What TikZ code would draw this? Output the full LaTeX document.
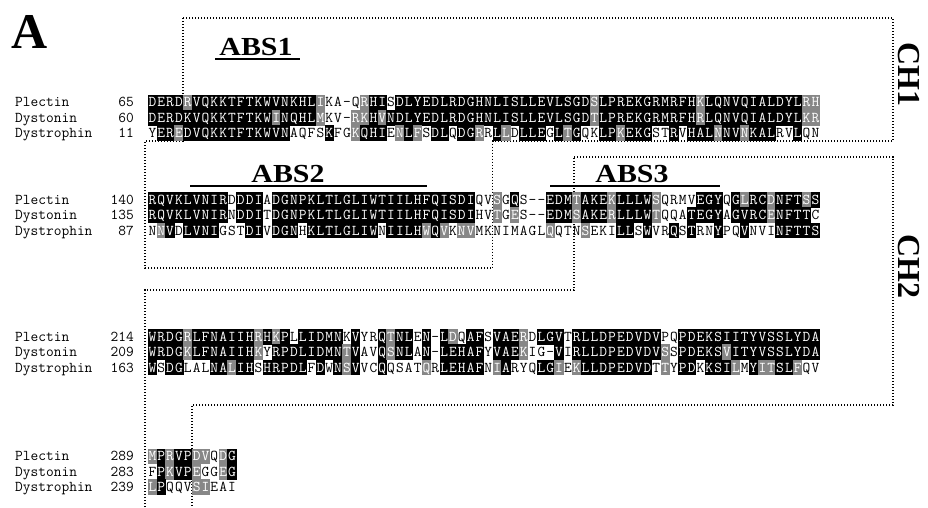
\documentclass[tikz,border=0pt]{standalone}
\usepackage{fontspec}
\setmainfont{Liberation Serif}
\definecolor{shadegray}{HTML}{878787}
\tikzset{
  seqtxt/.style={anchor=base, inner sep=0pt, font=\ttfamily\fontsize{15}{15}\selectfont},
  namelbl/.style={anchor=base west, inner sep=0pt, font=\ttfamily\fontsize{15}{15}\selectfont},
  numlbl/.style={anchor=base east, inner sep=0pt, font=\ttfamily\fontsize{15}{15}\selectfont},
  dotline/.style={line width=1.4pt, dash pattern=on 1.4pt off 1.6pt},
  abslbl/.style={anchor=base, inner sep=0pt, xscale=1.15, font=\bfseries\fontsize{26}{26}\selectfont},
  chlbl/.style={inner sep=0pt, rotate=-90, font=\bfseries\fontsize{32}{32}\selectfont},
  absrule/.style={line width=2pt},
}
\newcommand\cellbox[4]{%
  \fill[#4] ({138.96+#2*8.84},{#1-7.9}) rectangle ({148.2+#2*8.84},{#1+7.7});
  \node[seqtxt,text=white] at ({143.58+#2*8.84},{#1+4.4}) {#3};}
\newcommand\cellplain[3]{%
  \node[seqtxt] at ({143.58+#2*8.84},{#1+4.4}) {#3};}
\ExplSyntaxOn
\NewDocumentCommand \alncell { m m m m }
  {
    \str_case:nn {#4}
      {
        {k}{\cellbox{#1}{#2}{#3}{black}}
        {g}{\cellbox{#1}{#2}{#3}{shadegray}}
        {w}{\cellplain{#1}{#2}{#3}}
      }
  }
\NewDocumentCommand \alnrow { m m m }
  {
    \int_step_inline:nn { \tl_count:n {#2} }
      {
        \use:e
          {
            \exp_not:N \alncell {#1} {##1}
              { \tl_item:nn {#2} {##1} }
              { \tl_item:nn {#3} {##1} }
          }
      }
  }
\ExplSyntaxOff
\newcommand\seqrow[6]{%
  \node[namelbl] (nm#6) at (15,{#1+4.4}) {#2};
  \node[numlbl] (no#6) at (134,{#1+4.4}) {#3};
  \alnrow{#1}{#4}{#5}}
\begin{document}
\begin{tikzpicture}[x=1pt,y=-1pt]
\useasboundingbox (0,0) rectangle (928,507);
% panel letter
\node[anchor=base west, inner sep=0pt, font=\bfseries\fontsize{50}{50}\selectfont] (panelA) at (11,48) {A};
% domain outlines
\draw[dotline] (183,18) -- (893,18) -- (893,141) -- (492.5,141) -- (492.5,268) -- (145,268) -- (145,141) -- (183,141) -- cycle;
\draw[dotline] (574,157) -- (893,157) -- (893,405) -- (192,405) -- (192,507);
\draw[dotline] (145,507) -- (145,290) -- (574,290) -- (574,157);
% domain labels
\node[chlbl] (ch1) at (909,74) {CH1};
\node[chlbl] (ch2) at (909,266) {CH2};
% ABS labels
\node[abslbl] (abs1) at (256,55) {ABS1};
\draw[absrule] (215,59) -- (300,59);
\node[abslbl] (abs2) at (288,182) {ABS2};
\draw[absrule] (190,186) -- (427,186);
\node[abslbl] (abs3) at (632,182) {ABS3};
\draw[absrule] (550,186) -- (720,186);
% block 1
\seqrow{102.5}{Plectin}{65}{DERDRVQKKT FTKWVNKHLI KA-QRHISDL YEDLRDGHNL ISLLEVLSGD SLPREKGRMR FHKLQNVQIA LDYLRH}{kkkkgkkkkk kkkkkkkkkg wwwwgkkwkk kkkkkkkkkk kkkkkkkkkk gkkkkkkkkk kkgkkkkkkk kkkkgg}{p1}
\seqrow{117.8}{Dystonin}{60}{DERDKVQKKT FTKWINQHLM KV-RKHVNDL YEDLRDGHNL ISLLEVLSGD TLPREKGRMR FHRLQNVQIA LDYLKR}{kkkkkkkkkk kkkkgkkkkg wwwggkgkkk kkkkkkkkkk kkkkkkkkkk gkkkkkkkkk kkgkkkkkkk kkkkgg}{d1}
\seqrow{133.1}{Dystrophin}{11}{YEREDVQKKT FTKWVNAQFS KFGKQHIENL FSDLQDGRRL LDLLEGLTGQ KLPKEKGSTR VHALNNVNKA LRVLQN}{wkkgkkkkkk kkkkkkwwww kwwgkkkwgk gwkkwkkgwk gwkkkwkgkw wkkgkkkwwk wkkkgkkgkk kwwkww}{r1}
% block 2
\seqrow{200}{Plectin}{140}{RQVKLVNIRD DDIADGNPKL TLGLIWTIIL HFQISDIQVS GQS--EDMTA KEKLLLWSQR MVEGYQGLRC DNFTSS}{kkkkkkkkkw kkkwkkkkkk kkkkkkkkkk kkkkkkkwwg wkwwwkkkgk kkgkkkkgww wwkkkwkgkk gkkkgk}{p2}
\seqrow{215.3}{Dystonin}{135}{RQVKLVNIRN DDITDGNPKL TLGLIWTIIL HFQISDIHVT GES--EDMSA KERLLLWTQQ ATEGYAGVRC ENFTTC}{kkkkkkkkkw kkkwkkkkkk kkkkkkkkkk kkkkkkkwwg wgwwwkkkgk kkgkkkkgww wkkkkwkkkk gkkkkw}{d2}
\seqrow{230.6}{Dystrophin}{87}{NNVDLVNIGS TDIVDGNHKL TLGLIWNIIL HWQVKNVMKN IMAGLQQTNS EKILLSWVRQ STRNYPQVNV INFTTS}{wgkwkkkkww wkkwkkkwkk kkkkkkwkkk kgkgwggwww wwwwwgwwwg wwwkkwkwwk wkwwkwwkww wkkkkk}{r2}
% block 3
\seqrow{337}{Plectin}{214}{WRDGRLFNAI IHRHKPLLID MNKVYRQTNL EN-LDQAFSV AERDLGVTRL LDPEDVDVPQ PDEKSIITYV SSLYDA}{kkkkgkkkkk kkgkgkwkkk kkwkwwkgkk wkwkgwkkwk kkgwkkkwkk kkkkkkkkww kkkkkkkkkk kkkkkk}{p3}
\seqrow{352.3}{Dystonin}{209}{WRDGKLFNAI IHKYRPDLID MNTVAVQSNL AN-LEHAFYV AEKIG-VIRL LDPEDVDVSS PDEKSVITYV SSLYDA}{kkkkgkkkkk kkgwkkkkkk kkgkwwkgkk wkwkkkkkwk kkgwwwkwkk kkkkkkkkgw kkkkkgkkkk kkkkkk}{d3}
\seqrow{367.6}{Dystrophin}{163}{WSDGLALNAL IHSHRPDLFD WNSVVCQQSA TQRLEHAFNI ARYQLGIEKL LDPEDVDTTY PDKKSILMYI TSLFQV}{kwkkwwwkkg kkwkkkkkwk wkgkwwkwww wgwkkkkkwg kwwwkkgwgk kkkkkkkwgw kkwkkkgwkg gkkgww}{r3}
% block 4
\seqrow{456.5}{Plectin}{289}{MPRVPDVQDG}{gkgkkggwgk}{p4}
\seqrow{471.8}{Dystonin}{283}{FPKVPEGGEG}{wkgkkgwwgk}{d4}
\seqrow{487.1}{Dystrophin}{239}{LPQQVSIEAI}{gkwwwggwww}{r4}
\end{tikzpicture}
\end{document}
